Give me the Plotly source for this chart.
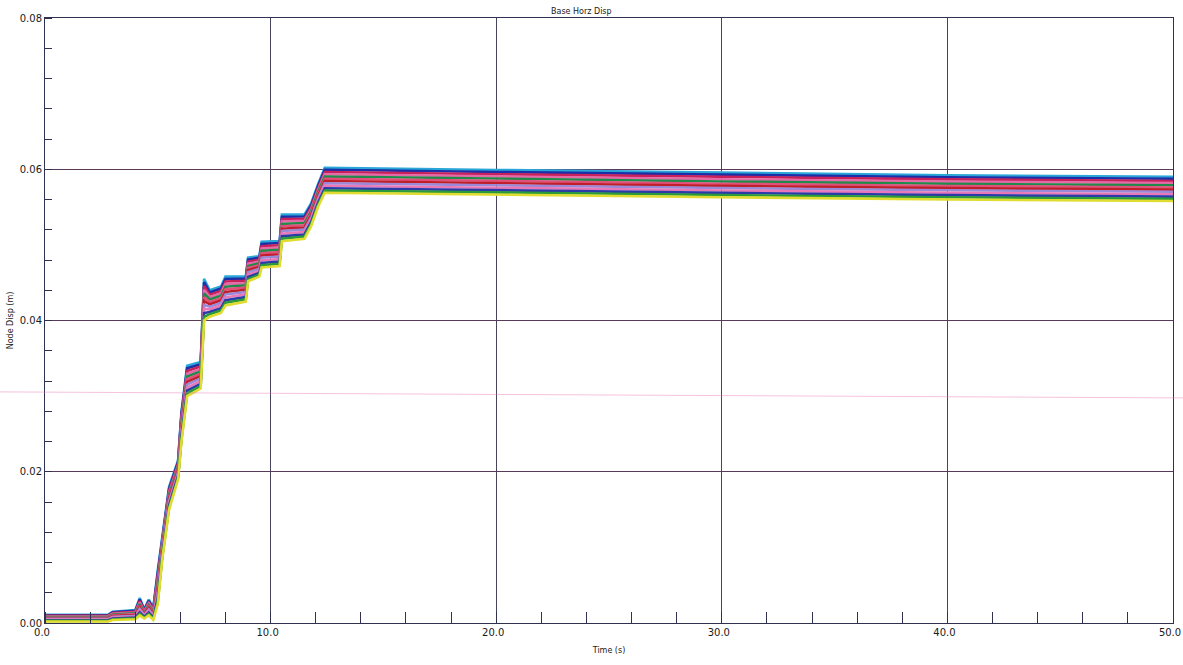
import plotly.graph_objects as go

# Time points (s) and the upper / lower edge of the bundle of node displacements (m)
time_s = [0.0, 2.8, 3.0, 4.0, 4.2, 4.4, 4.6, 4.8, 5.0, 5.2, 5.5, 5.9, 6.05, 6.3, 6.9,
          7.05, 7.3, 7.8, 8.0, 8.9, 9.0, 9.5, 9.6, 10.4, 10.5, 11.5, 11.8, 12.1, 12.4,
          20.0, 30.0, 40.0, 50.0]
upper_m = [0.0011, 0.0011, 0.0015, 0.0017, 0.0033, 0.0018, 0.0031, 0.0020, 0.0070, 0.0115,
           0.0180, 0.0215, 0.0280, 0.0340, 0.0345, 0.0455, 0.0440, 0.0445, 0.0458, 0.0458,
           0.0483, 0.0485, 0.0504, 0.0505, 0.0540, 0.0540, 0.0555, 0.0580, 0.0602,
           0.0599, 0.0595, 0.0592, 0.0590]
lower_m = [0.0002, 0.0002, 0.0004, 0.0005, 0.0010, 0.0006, 0.0010, 0.0004, 0.0025, 0.0085,
           0.0150, 0.0190, 0.0240, 0.0300, 0.0310, 0.0400, 0.0405, 0.0410, 0.0420, 0.0425,
           0.0452, 0.0458, 0.0470, 0.0472, 0.0505, 0.0508, 0.0525, 0.0550, 0.0569,
           0.0566, 0.0563, 0.0560, 0.0558]

# Series (nodes) from top of the bundle to the bottom, with their position inside it
node_colors = ["#2aa7d8", "#1b2fa8", "#c8205a", "#e46aa8", "#1f8a4a", "#e0507a",
               "#c01f2a", "#9a88d8", "#e878b8", "#2a3aa8", "#2a9a3a", "#e0dc30"]
node_pos = [1.0, 0.92, 0.83, 0.74, 0.65, 0.56, 0.47, 0.38, 0.28, 0.18, 0.09, 0.0]

x_ticks = [0, 10, 20, 30, 40, 50]
y_ticks = [0.0, 0.02, 0.04, 0.06, 0.08]

fig = go.Figure()
for color, pos in zip(node_colors, node_pos):
    vals = [lo + pos * (up - lo) for up, lo in zip(upper_m, lower_m)]
    fig.add_trace(go.Scatter(x=time_s, y=vals, mode="lines",
                             line=dict(color=color, width=2.6, shape="linear"),
                             showlegend=False, hoverinfo="skip"))

tick_font = dict(family="DejaVu Sans", size=10, color="#1a1a1a")
title_font = dict(family="DejaVu Sans", size=8, color="#1a1a1a")
fig.update_layout(
    width=1183, height=665,
    margin=dict(l=45, r=10, t=18, b=42, autoexpand=False),
    paper_bgcolor="white", plot_bgcolor="white",
    font=tick_font,
    xaxis=dict(range=[0, 50], tickvals=x_ticks, tickformat=".1f", automargin=False,
               showgrid=True, gridcolor="#44445a", gridwidth=1,
               showline=True, linecolor="#303050", linewidth=1, mirror=True,
               ticks="", zeroline=False, ticklabeloverflow="allow", ticklabelshift=-3,
               minor=dict(dtick=2, ticks="inside", ticklen=11, tickcolor="#303050", showgrid=False),
               title=dict(text="Time (s)", font=title_font, standoff=10),
               tickfont=tick_font),
    yaxis=dict(range=[0, 0.08], tickvals=y_ticks, tickformat=".2f", automargin=False,
               showgrid=True, gridcolor="#5a3a5a", gridwidth=1,
               showline=True, linecolor="#303050", linewidth=1, mirror=True,
               ticks="", zeroline=False, ticklabeloverflow="allow",
               minor=dict(dtick=0.004, ticks="inside", ticklen=7, tickcolor="#303050", showgrid=False),
               title=dict(text="Node Disp (m)", font=title_font, standoff=4),
               tickfont=tick_font),
    annotations=[dict(text="Base Horz Disp", xref="paper", yref="paper",
                      x=0.476, y=1.0, yanchor="bottom", xanchor="center", showarrow=False,
                      font=title_font)],
    shapes=[dict(type="line", xref="paper", yref="paper", x0=-0.04, x1=1.01,
                 y0=0.382, y1=0.372, line=dict(color="rgba(230,120,180,0.45)", width=1))],
)

fig.write_html("out.html", config={"displayModeBar": False},
               post_script="document.body.style.margin='0';document.body.style.overflow='hidden';")
